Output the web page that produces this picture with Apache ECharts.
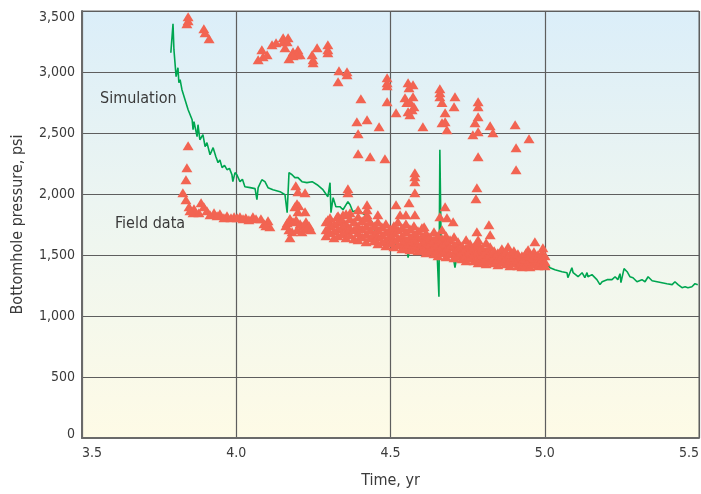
<!DOCTYPE html>
<html><head><meta charset="utf-8">
<script src="https://cdn.jsdelivr.net/npm/echarts@6/dist/echarts.min.js"></script>
<style>html,body{margin:0;padding:0;background:#fff}#c{width:701px;height:494px}</style>
</head><body><div id="c"></div>
<script>
// ---- tick labels ----
const xTicks = [3.5, 4.0, 4.5, 5.0, 5.5];
const xTickLabels = ['3.5', '4.0', '4.5', '5.0', '5.5'];
const yTicks = [0, 500, 1000, 1500, 2000, 2500, 3000, 3500];
const yTickLabels = ['0', '500', '1,000', '1,500', '2,000', '2,500', '3,000', '3,500'];

// ---- Simulation (time, yr / pressure, psi) ----
const simTime = [3.788,3.795,3.798,3.805,3.811,3.814,3.818,3.824,3.834,3.844,3.850,3.857,3.860,3.863,3.873,3.876,3.882,3.892,3.899,3.905,3.915,3.925,3.934,3.941,3.947,3.954,3.962,3.970,3.978,3.986,3.989,3.996,4.002,4.012,4.020,4.028,4.045,4.061,4.067,4.071,4.083,4.093,4.103,4.119,4.142,4.158,4.165,4.171,4.181,4.190,4.200,4.213,4.229,4.246,4.262,4.281,4.297,4.304,4.307,4.314,4.323,4.336,4.346,4.362,4.369,4.378,4.395,4.411,4.424,4.440,4.456,4.466,4.489,4.505,4.521,4.537,4.553,4.557,4.563,4.579,4.596,4.612,4.628,4.651,4.657,4.660,4.664,4.667,4.683,4.703,4.709,4.716,4.732,4.748,4.758,4.774,4.790,4.806,4.810,4.816,4.832,4.848,4.865,4.878,4.897,4.920,4.942,4.961,4.984,5.001,5.017,5.033,5.056,5.072,5.075,5.088,5.092,5.108,5.121,5.130,5.137,5.140,5.153,5.169,5.179,5.186,5.202,5.218,5.228,5.237,5.244,5.247,5.257,5.267,5.276,5.286,5.299,5.315,5.325,5.335,5.348,5.364,5.380,5.396,5.413,5.422,5.432,5.445,5.455,5.464,5.477,5.487,5.496];
const simPressure = [3158,3396,3183,2962,3035,2912,2937,2855,2773,2691,2675,2609,2527,2593,2470,2568,2445,2486,2388,2421,2322,2380,2306,2257,2280,2216,2235,2199,2210,2158,2101,2175,2158,2101,2120,2060,2052,2044,1953,2052,2117,2101,2052,2035,2019,1994,1847,2175,2158,2134,2134,2101,2093,2101,2076,2035,1978,2093,1847,1970,1896,1896,1871,1937,1912,1855,1871,1839,1814,1773,1625,1650,1625,1609,1584,1576,1560,1478,1560,1552,1543,1535,1527,1519,1158,2363,1625,1568,1543,1486,1396,1502,1527,1568,1527,1502,1486,1462,1404,1478,1502,1527,1494,1478,1486,1478,1453,1437,1437,1445,1396,1379,1363,1355,1314,1396,1355,1322,1355,1314,1355,1322,1339,1298,1257,1281,1298,1298,1322,1298,1347,1273,1388,1363,1322,1314,1281,1298,1281,1322,1289,1281,1273,1265,1257,1281,1257,1232,1240,1232,1240,1265,1257];

// ---- Field data: scattered points ----
const fieldTime = [
 3.844,3.844,3.840,3.895,3.899,3.912,
 3.844,3.840,3.837,
 3.827,3.837,3.847,3.860,3.879,3.886,3.905,3.928,3.947,3.970,3.993,4.012,4.031,4.054,4.064,4.080,4.103,4.109,3.863,3.895,3.850,3.915,3.938,3.960,3.983,4.003,4.022,4.041,4.090,4.096,
 4.193,4.200,4.203,4.223,4.197,4.223,4.190,4.200,4.165,4.174,4.184,4.194,4.207,4.217,4.226,4.236,4.171,4.181,4.197,4.213,4.229,4.174,4.161,4.242,
 4.083,4.087,4.071,4.100,4.116,4.129,4.152,4.168,4.152,4.165,4.158,4.171,4.184,4.200,4.197,4.207,4.184,4.246,4.249,4.249,4.262,4.297,4.297,4.297,
 4.333,4.359,4.359,4.330,4.404,4.391,4.424,4.463,4.395,4.395,4.434,4.482,4.489,4.489,4.489,4.489,4.518,4.362,4.362,
 4.557,4.573,4.560,4.547,4.553,4.573,4.563,4.576,4.570,4.557,4.563,4.605,4.579,4.579,4.579,4.579,
 4.660,4.660,4.660,4.667,4.677,4.709,4.706,4.667,4.677,4.683,4.784,4.784,4.784,4.774,4.784,4.767,4.823,4.832,4.904,4.949,4.907,4.907,4.784,4.780,4.777,4.677,4.660,4.683,4.703,4.819,4.823,4.780,4.784,4.881,4.968,4.994,4.946,
 4.518,4.560,4.424,4.424,4.424,4.459,4.531,4.550,4.579,4.395,4.369,4.346,4.327,4.297,4.609
];
const fieldPressure = [
 3453,3420,3396,3355,3322,3273,
 2396,2216,2117,
 2011,1953,1896,1847,1847,1929,1863,1847,1839,1822,1814,1814,1806,1814,1798,1798,1781,1732,1880,1896,1863,1830,1822,1806,1806,1806,1798,1789,1757,1740,
 2068,2019,1904,1855,1920,2011,1896,1855,1765,1800,1773,1789,1757,1740,1773,1740,1707,1691,1707,1691,1716,1642,1740,1707,
 3183,3126,3101,3142,3224,3240,3281,3281,3248,3248,3199,3109,3166,3183,3142,3142,3134,3142,3101,3076,3199,3224,3183,3158,
 3011,3003,2978,2921,2781,2593,2609,2552,2494,2330,2306,2289,2953,2912,2888,2757,2666,2044,2011,
 2912,2896,2871,2789,2749,2798,2757,2716,2691,2675,2650,2552,2175,2142,2101,2011,
 2863,2830,2798,2749,2666,2798,2716,2584,2593,2527,2757,2716,2634,2584,2511,2486,2560,2503,2568,2453,2380,2199,2306,2052,1962,1896,1814,1806,1773,1748,1666,1691,1625,1568,1609,1560,1543,
 1912,1929,1912,1871,1830,1830,1830,1830,1830,1871,1847,1830,1814,1789,1732
];

// ---- Field data: dense band (time column, pressures at that time) ----
const bandTime = [4.291,4.304,4.317,4.330,4.343,4.356,4.369,4.382,4.395,4.408,4.421,4.434,4.447,4.459,4.472,4.485,4.498,4.511,4.524,4.537,4.550,4.563,4.576,4.589,4.602,4.615,4.628,4.641,4.654,4.667,4.680,4.693,4.706,4.719,4.732,4.745,4.758,4.771,4.784,4.797,4.810,4.823,4.836,4.848,4.861,4.874,4.887,4.900,4.913,4.926,4.939,4.952,4.965,4.978,4.991,5.001];
const bandPressure = [
 [1773,1707,1658],[1806,1740,1683],[1757,1699,1642],[1822,1773,1716,1658],[1789,1732,1675],[1839,1757,1699,1642],[1798,1724,1666],[1773,1707,1634],
 [1814,1740,1683,1625],[1781,1716,1650],[1806,1740,1675,1609],[1773,1707,1642],[1740,1675,1617],[1773,1707,1650,1593],[1732,1666,1609],[1757,1691,1625,1576],
 [1716,1658,1601],[1740,1683,1625,1568],[1773,1707,1642,1584],[1724,1658,1601,1552],[1757,1691,1625,1568],[1716,1650,1593,1543],[1740,1675,1617,1560],[1699,1642,1584,1535],
 [1724,1658,1601,1543],[1683,1625,1568,1519],[1650,1593,1535],[1691,1625,1568,1511],[1658,1601,1543,1494],[1707,1634,1576,1519],[1658,1601,1543,1486],[1625,1568,1511],
 [1650,1584,1527,1478],[1609,1552,1494],[1576,1527,1470],[1625,1560,1502,1453],[1593,1535,1478],[1568,1511,1453],[1593,1535,1478,1437],[1560,1502,1445],
 [1601,1535,1478,1429],[1568,1511,1453],[1535,1486,1437],[1519,1470,1420],[1552,1494,1445],[1527,1478,1429],[1511,1462,1412],[1535,1486,1437],
 [1511,1462,1412],[1494,1445,1404],[1519,1470,1420],[1494,1445,1404],[1527,1478,1429],[1502,1453,1412],[1519,1470,1420],[1494,1445,1412]
];

const FONT = "'DejaVu Sans Condensed', 'Liberation Sans Narrow', 'DejaVu Sans', sans-serif";
const TXT = '#3a3a3a';

const fieldPoints = fieldTime.map((t, i) => [t, fieldPressure[i]]);
bandTime.forEach((t, i) => bandPressure[i].forEach(p => fieldPoints.push([t, p])));
const simPoints = simTime.map((t, i) => [t, simPressure[i]]);

const chart = echarts.init(document.getElementById('c'), null, {renderer: 'canvas'});
chart.setOption({
  animation: false,
  backgroundColor: '#ffffff',
  grid: {
    left: 82, right: 2, top: 11, bottom: 56,
    outerBoundsMode: 'none',
    containLabel: false,
    show: true,
    borderColor: '#6a6a6a', borderWidth: 1,
    backgroundColor: {type: 'linear', x: 0, y: 0, x2: 0, y2: 1,
      colorStops: [{offset: 0, color: '#dbeef9'}, {offset: 0.45, color: '#ecf5f1'}, {offset: 1, color: '#fefbe6'}]}
  },
  xAxis: {
    type: 'value', min: 3.5, max: 5.5, interval: 0.5,
    name: 'Time, yr', nameLocation: 'middle', nameGap: 35,
    nameTextStyle: {fontFamily: FONT, fontSize: 16, color: TXT},
    axisLine: {show: true, lineStyle: {color: '#6a6a6a', width: 2}},
    axisTick: {show: false},
    axisLabel: {fontFamily: FONT, fontSize: 14, color: TXT, margin: 8,
      alignMinLabel: 'left', alignMaxLabel: 'right',
      formatter: v => { const i = xTicks.findIndex(x => Math.abs(x - v) < 1e-9); return i >= 0 ? xTickLabels[i] : ''; }},
    splitLine: {show: true, lineStyle: {color: '#5e5e5e', width: 1.2}}
  },
  yAxis: {
    type: 'value', min: 0, max: 3500, interval: 500,
    name: 'Bottomhole pressure, psi', nameLocation: 'middle', nameGap: 56,
    nameTextStyle: {fontFamily: FONT, fontSize: 16, color: TXT},
    axisLine: {show: true, lineStyle: {color: '#6a6a6a', width: 2}},
    axisTick: {show: false},
    axisLabel: {fontFamily: FONT, fontSize: 14, color: TXT, margin: 7,
      formatter: v => {
        const i = yTicks.indexOf(v); const s = i >= 0 ? yTickLabels[i] : '';
        if (v === 3500) return '{t|' + s + '}';
        if (v === 0) return '{b|' + s + '}';
        return s;
      },
      rich: {
        t: {fontFamily: FONT, fontSize: 14, color: TXT, padding: [12, 0, 0, 0]},
        b: {fontFamily: FONT, fontSize: 14, color: TXT, padding: [0, 0, 8, 0]}
      }},
    splitLine: {show: true, lineStyle: {color: '#5e5e5e', width: 1.2}}
  },
  graphic: [
    {type: 'text', left: 100, top: 91, z: 10, style: {text: 'Simulation', fontFamily: FONT, fontSize: 16, fill: TXT}},
    {type: 'text', left: 115, top: 216, z: 10, style: {text: 'Field data', fontFamily: FONT, fontSize: 16, fill: TXT}}
  ],
  series: [
    {
      name: 'Simulation', type: 'line', data: simPoints,
      showSymbol: false, symbol: 'none',
      lineStyle: {color: '#00a651', width: 1.6}, z: 2
    },
    {
      name: 'Field data', type: 'scatter', data: fieldPoints,
      symbol: 'triangle', symbolSize: [11, 9],
      itemStyle: {color: '#f26452', opacity: 1}, z: 3
    }
  ]
});
</script></body></html>
